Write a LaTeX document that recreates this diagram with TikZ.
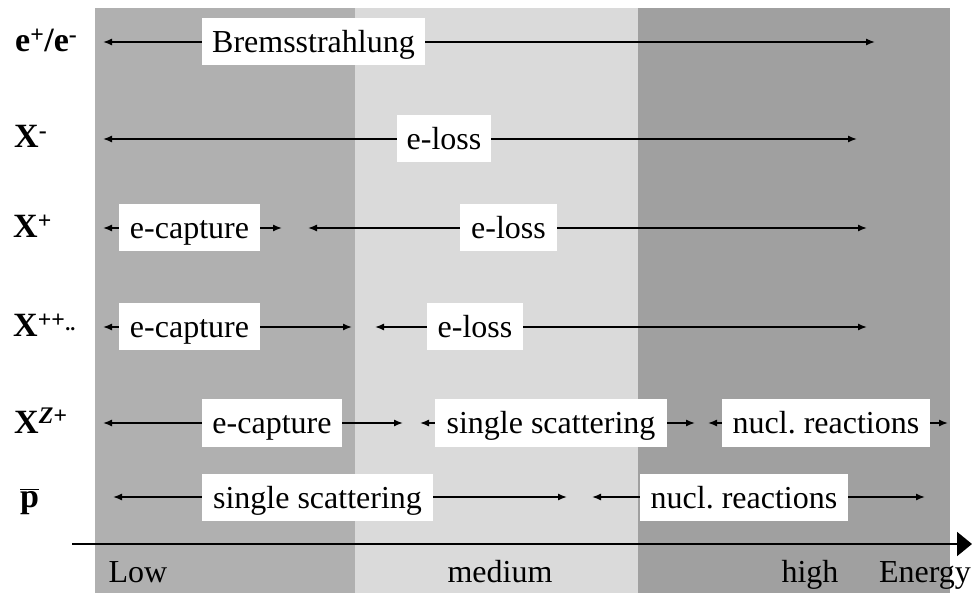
\documentclass[tikz,border=0pt]{standalone}
\usepackage{fontspec}
\setmainfont{Liberation Serif}
\usetikzlibrary{arrows.meta}
\definecolor{lowc}{HTML}{B0B0B0}
\definecolor{medc}{HTML}{DADADA}
\definecolor{highc}{HTML}{A0A0A0}
\begin{document}
\begin{tikzpicture}[x=1pt,y=-1pt,
  lbl/.style={fill=white, inner sep=0pt, minimum height=47pt, text height=25pt, text depth=3pt, font=\fontsize{32}{36}\selectfont},
  conn/.style={-{Latex[length=9pt,width=7pt]}, line width=1.4pt},
  part/.style={anchor=base west, inner sep=0pt, font=\fontsize{34}{38}\selectfont\bfseries},
  axlbl/.style={anchor=base, inner sep=0pt, font=\fontsize{32}{36}\selectfont}]
\useasboundingbox (0,0) rectangle (972,593);
% energy regions
\fill[lowc] (95,8) rectangle (355,593);
\fill[medc] (355,8) rectangle (638,593);
\fill[highc] (638,8) rectangle (950,593);

% particle labels
\node[part] (pe) at (15,52) {e\textsuperscript{+}/e\textsuperscript{-}};
\node[part] (pxm) at (14,148) {X\textsuperscript{-}};
\node[part] (pxp) at (13,238) {X\textsuperscript{+}};
\node[part] (pxpp) at (13,337) {X\textsuperscript{++}\raisebox{6pt}{\fontsize{20}{20}\selectfont..}};
\node[part] (pxz) at (14,433) {X\textsuperscript{\textit{Z+}}};
\node[part] (pp) at (20,507) {$\overline{\mbox{\bfseries p}}$};

% row 1: e+/e-
\node[lbl, minimum width=223pt] (r1a) at (313.5,42) {Bremsstrahlung};
\coordinate (r1l) at (103,42); \coordinate (r1r) at (875,42);
\draw[conn] (r1a) -- (r1l); \draw[conn] (r1a) -- (r1r);

% row 2: X-
\node[lbl, minimum width=94pt] (r2a) at (444,139) {e-loss};
\coordinate (r2l) at (103,139); \coordinate (r2r) at (857,139);
\draw[conn] (r2a) -- (r2l); \draw[conn] (r2a) -- (r2r);

% row 3: X+
\node[lbl, minimum width=141pt] (r3a) at (189.5,228) {e-capture};
\coordinate (r3al) at (103,228); \coordinate (r3ar) at (282,228);
\draw[conn] (r3a) -- (r3al); \draw[conn] (r3a) -- (r3ar);
\node[lbl, minimum width=97pt] (r3b) at (508.5,228) {e-loss};
\coordinate (r3bl) at (308,228); \coordinate (r3br) at (867,228);
\draw[conn] (r3b) -- (r3bl); \draw[conn] (r3b) -- (r3br);

% row 4: X++
\node[lbl, minimum width=141pt] (r4a) at (189.5,327) {e-capture};
\coordinate (r4al) at (103,327); \coordinate (r4ar) at (352,327);
\draw[conn] (r4a) -- (r4al); \draw[conn] (r4a) -- (r4ar);
\node[lbl, minimum width=96pt] (r4b) at (475,327) {e-loss};
\coordinate (r4bl) at (375,327); \coordinate (r4br) at (867,327);
\draw[conn] (r4b) -- (r4bl); \draw[conn] (r4b) -- (r4br);

% row 5: X^Z+
\node[lbl, minimum width=140pt] (r5a) at (272,423) {e-capture};
\coordinate (r5al) at (103,423); \coordinate (r5ar) at (403,423);
\draw[conn] (r5a) -- (r5al); \draw[conn] (r5a) -- (r5ar);
\node[lbl, minimum width=232pt] (r5b) at (551,423) {single scattering};
\coordinate (r5bl) at (420,423); \coordinate (r5br) at (695,423);
\draw[conn] (r5b) -- (r5bl); \draw[conn] (r5b) -- (r5br);
\node[lbl, minimum width=208pt] (r5c) at (826,423) {nucl.\ reactions};
\coordinate (r5cl) at (708,423); \coordinate (r5cr) at (948,423);
\draw[conn] (r5c) -- (r5cl); \draw[conn] (r5c) -- (r5cr);

% row 6: anti-proton
\node[lbl, minimum width=231pt] (r6a) at (317.5,497) {single scattering};
\coordinate (r6al) at (113,497); \coordinate (r6ar) at (567,497);
\draw[conn] (r6a) -- (r6al); \draw[conn] (r6a) -- (r6ar);
\node[lbl, minimum width=208pt] (r6b) at (744,497) {nucl.\ reactions};
\coordinate (r6bl) at (592,497); \coordinate (r6br) at (925,497);
\draw[conn] (r6b) -- (r6bl); \draw[conn] (r6b) -- (r6br);

% energy axis
\coordinate (ax0) at (72,544); \coordinate (ax1) at (972,544);
\draw[line width=2pt, -{Triangle[length=15pt,width=24pt]}] (ax0) -- (ax1);
\node[axlbl] (lLow) at (138,582) {Low};
\node[axlbl] (lMed) at (500,582) {medium};
\node[axlbl] (lHigh) at (810,582) {high};
\node[axlbl] (lEn) at (925,582) {Energy};
\end{tikzpicture}
\end{document}
